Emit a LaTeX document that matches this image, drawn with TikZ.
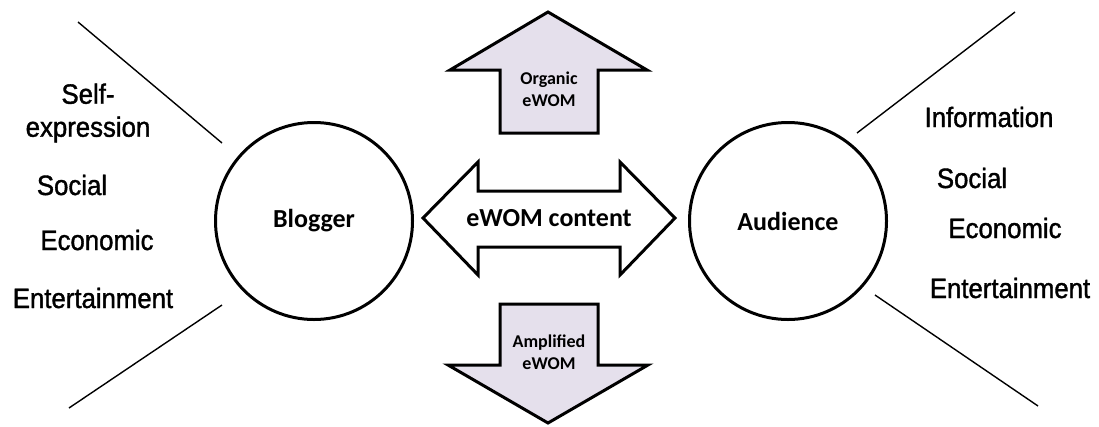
\documentclass[tikz,border=0pt]{standalone}
\usepackage{fontspec}
\setmainfont{Liberation Sans}
\newfontfamily\motivefont{Liberation Sans}[FakeStretch=0.92, FakeBold=1.3]
\newfontfamily\calfont{Carlito}
\usepackage{tikz}
\usetikzlibrary{positioning}
\definecolor{flowfill}{RGB}{229,224,236}

\begin{document}
\begin{tikzpicture}[x=1pt, y=-1pt,
                actor/.style={draw, circle, line width=3pt, minimum size=197pt, inner sep=0pt,
                              font=\calfont\bfseries\fontsize{26}{30}\selectfont},
                motive/.style={font=\motivefont\fontsize{28}{33}\selectfont, align=center, inner sep=0pt},
                blockarrow/.style={draw, line width=3pt, line join=miter},
                flowlabel/.style={font=\calfont\bfseries\fontsize{18}{22}\selectfont, align=center, inner sep=0pt},
                ray/.style={line width=1.4pt}]

                \useasboundingbox (0,0) rectangle (1099,426);

                % Actors
                \node[actor] (blogger) at (314,221) {Blogger};
                \node[actor] (audience) at (788,221) {Audience};

                % Rays round the actors
                \coordinate (bl1) at (78,22);   \coordinate (bl2) at (222,143);
                \coordinate (bl3) at (222,305); \coordinate (bl4) at (69,408);
                \coordinate (au1) at (857,133); \coordinate (au2) at (1015,12);
                \coordinate (au3) at (875,295); \coordinate (au4) at (1038,406);
                \draw[ray] (bl1) -- (bl2);
                \draw[ray] (bl3) -- (bl4);
                \draw[ray] (au1) -- (au2);
                \draw[ray] (au3) -- (au4);

                % Blogger motives
                \node[motive] (selfexp) at (88,113) {Self-\\expression};
                \node[motive] (bsocial) at (72,185) {Social};
                \node[motive] (becon) at (97,240) {Economic};
                \node[motive] (bent) at (93,298) {Entertainment};

                % Audience motives
                \node[motive] (info) at (989,117) {Information};
                \node[motive] (asocial) at (972,178) {Social};
                \node[motive] (aecon) at (1005,228) {Economic};
                \node[motive] (aent) at (1010,288) {Entertainment};

                % Content exchange (two-headed block arrow)
                \draw[blockarrow, fill=white] (423,218) -- (478,162) -- (478,191) -- (620,191)
                    -- (620,162) -- (675,218) -- (620,275) -- (620,247) -- (478,247)
                    -- (478,275) -- cycle;
                \node[font=\calfont\bfseries\fontsize{26}{30}\selectfont] (content) at (549,218) {eWOM content};

                % Organic eWOM (up) and amplified eWOM (down)
                \draw[blockarrow, fill=flowfill] (500,133) -- (500,70) -- (450,70) -- (548,12)
                    -- (647,70) -- (598,70) -- (598,133) -- cycle;
                \node[flowlabel] (organic) at (549,89) {Organic\\eWOM};
                \draw[blockarrow, fill=flowfill] (500,304) -- (598,304) -- (598,365) -- (648,365)
                    -- (548,423) -- (448,365) -- (500,365) -- cycle;
                \node[flowlabel] (amplified) at (549,352) {Amplified\\eWOM};
\end{tikzpicture}
\end{document}
